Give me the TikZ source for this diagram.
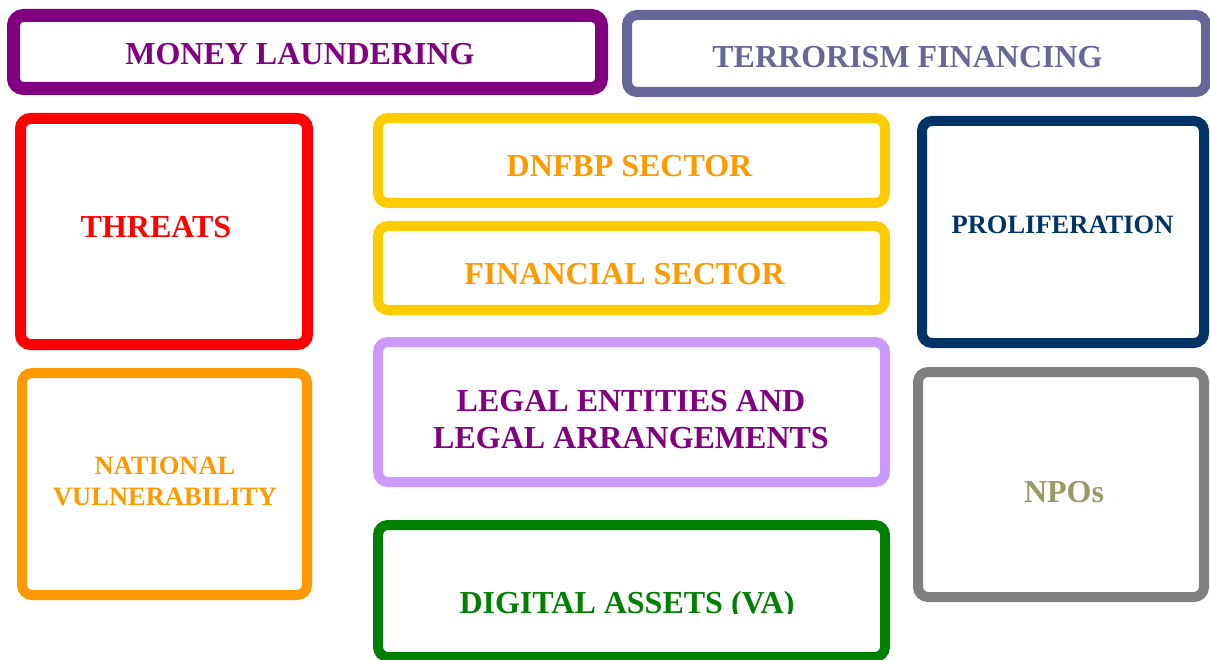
\documentclass[tikz,border=0pt]{standalone}
\usepackage{fontspec}
\setmainfont{Liberation Serif}
\usetikzlibrary{positioning}
\definecolor{mlpurple}{HTML}{800080}
\definecolor{tfslate}{HTML}{666699}
\definecolor{gold}{HTML}{FFCC00}
\definecolor{amber}{HTML}{FF9900}
\definecolor{navy}{HTML}{003366}
\definecolor{lilac}{HTML}{CC99FF}
\definecolor{leaf}{HTML}{008000}
\definecolor{stone}{HTML}{808080}
\definecolor{olive}{HTML}{999966}
\tikzset{box/.style={draw=#1, rounded corners=10pt, line width=10pt, inner sep=0pt},
lbl/.style={text=#1, font=\bfseries\fontsize{32}{37}\selectfont, inner sep=0pt, anchor=base, align=center},
smalllbl/.style={font=\bfseries\fontsize{26.5}{31}\selectfont}
}

\begin{document}
\begin{tikzpicture}[x=1pt, y=-1pt]
            \useasboundingbox (0,0) rectangle (1210,660);
            % top row
            \node[box=mlpurple, line width=13pt, minimum width=588pt, minimum height=73pt] (ml) at (307.5,52) {};
            \node[box=tfslate, minimum width=579pt, minimum height=77pt] (tf) at (916.5,53.5) {};
            % left column
            \node[box=red, line width=11pt, minimum width=287pt, minimum height=226pt] (thr) at (164,231.5) {};
            \node[box=amber, minimum width=285pt, minimum height=222pt] (nat) at (164.5,484) {};
            % middle column
            \node[box=gold, minimum width=507pt, minimum height=85pt] (dnf) at (631.5,160.5) {};
            \node[box=gold, minimum width=507pt, minimum height=84pt] (fin) at (631.5,268) {};
            \node[box=lilac, minimum width=507pt, minimum height=140pt] (leg) at (631.5,412) {};
            \node[box=leaf, minimum width=507pt, minimum height=132pt] (dig) at (631.5,591) {};
            % right column
            \node[box=navy, minimum width=282pt, minimum height=222pt] (pro) at (1063,232) {};
            \node[box=stone, minimum width=286pt, minimum height=225pt] (npo) at (1061,484.5) {};

            % labels
            \node[lbl=mlpurple] (ml-t) at (300,65) {MONEY LAUNDERING};
            \node[lbl=tfslate] (tf-t) at (907.5,68) {TERRORISM FINANCING};
            \node[lbl=red] (thr-t) at (156,238) {THREATS};
            \node[lbl=amber, smalllbl, anchor=center] (nat-t) at (165,481.5) {NATIONAL\\VULNERABILITY};
            \node[lbl=amber] (dnf-t) at (629.5,177) {DNFBP SECTOR};
            \node[lbl=amber] (fin-t) at (624.5,285) {FINANCIAL SECTOR};
            \node[lbl=mlpurple, anchor=center] (leg-t) at (631,420) {LEGAL ENTITIES AND\\LEGAL ARRANGEMENTS};
            \begin{scope}
                \clip (373,520) rectangle (890,613);
                \node[lbl=leaf] (dig-t) at (627,613) {DIGITAL ASSETS (VA)};
            \end{scope}
            \node[lbl=navy, smalllbl] (pro-t) at (1062.5,234) {PROLIFERATION};
            \node[lbl=olive] (npo-t) at (1064,502) {NPOs};
        \end{tikzpicture}
\end{document}
